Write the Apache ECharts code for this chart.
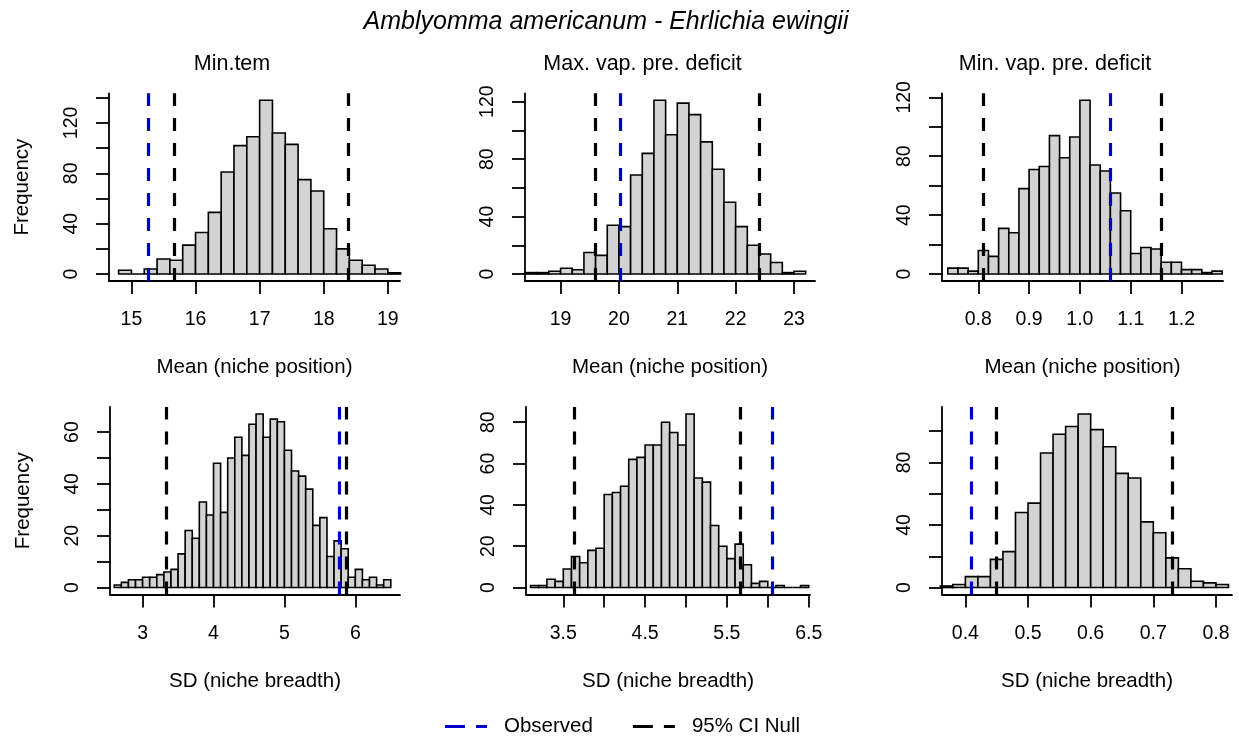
<!DOCTYPE html>
<html>
<head>
<meta charset="utf-8">
<title>Amblyomma americanum - Ehrlichia ewingii</title>
<script src="https://cdn.jsdelivr.net/npm/echarts@6/dist/echarts.min.js"></script>
<style>
  html, body { margin: 0; padding: 0; background: #fff; }
  #chart { width: 1239px; height: 745px; }
</style>
</head>
<body>
<div id="chart"></div>
<script>
// ---- 数据：每个直方图的起始断点、组距、频数 ----
const minTemMeanStart = 14.8, minTemMeanStep = 0.2;
const minTemMeanCounts = [3, 0, 4, 12, 11, 23, 33, 49, 81, 102, 109, 138, 112, 103, 75, 66, 36, 20, 11, 7, 4, 1];

const maxVpdMeanStart = 18.4, maxVpdMeanStep = 0.2;
const maxVpdMeanCounts = [1, 1, 2, 4, 3, 15, 13, 34, 33, 69, 84, 121, 97, 119, 111, 92, 73, 50, 33, 20, 14, 8, 1, 2];

const minVpdMeanStart = 0.74, minVpdMeanStep = 0.02;
const minVpdMeanCounts = [4, 4, 2, 16, 12, 31, 28, 58, 71, 73, 94, 79, 93, 118, 74, 70, 55, 43, 14, 18, 17, 8, 8, 3, 3, 1, 2];

const minTemSdStart = 2.6, minTemSdStep = 0.1;
const minTemSdCounts = [1, 2, 3, 3, 4, 4, 5, 6, 7, 13, 22, 19, 33, 28, 48, 29, 50, 58, 51, 63, 67, 58, 65, 64, 53, 45, 43, 38, 24, 27, 12, 18, 15, 4, 7, 3, 4, 1, 3];

const maxVpdSdStart = 3.1, maxVpdSdStep = 0.1;
const maxVpdSdCounts = [1, 1, 4, 3, 9, 15, 12, 18, 19, 45, 46, 49, 62, 63, 69, 69, 80, 75, 69, 84, 53, 51, 30, 20, 14, 21, 11, 2, 3, 0, 1, 0, 0, 1];

const minVpdSdStart = 0.36, minVpdSdStep = 0.02;
const minVpdSdCounts = [1, 2, 7, 7, 18, 23, 48, 54, 86, 98, 103, 111, 101, 90, 73, 70, 42, 35, 19, 12, 4, 3, 2];

// 观测值与零模型 95% 置信区间
const observedValues = [15.27, 20.02, 1.06, 5.77, 6.06, 0.408];
const ciLower = [15.67, 19.6, 0.815, 3.33, 3.63, 0.446];
const ciUpper = [18.38, 22.4, 1.158, 5.87, 5.66, 0.732];

// 刻度
const xTickValues = [
  [15, 16, 17, 18, 19], [19, 20, 21, 22, 23], [0.8, 0.9, 1.0, 1.1, 1.2],
  [3, 4, 5, 6], [3.5, 4, 4.5, 5, 5.5, 6, 6.5], [0.4, 0.5, 0.6, 0.7, 0.8]
];
const xLabelValues = [
  [15, 16, 17, 18, 19], [19, 20, 21, 22, 23], [0.8, 0.9, 1.0, 1.1, 1.2],
  [3, 4, 5, 6], [3.5, 4.5, 5.5, 6.5], [0.4, 0.5, 0.6, 0.7, 0.8]
];
const xLabelDecimals = [0, 0, 1, 0, 1, 1];
const yTickValues = [
  [0, 20, 40, 60, 80, 100, 120, 140], [0, 20, 40, 60, 80, 100, 120], [0, 20, 40, 60, 80, 100, 120],
  [0, 10, 20, 30, 40, 50, 60], [0, 20, 40, 60, 80], [0, 20, 40, 60, 80, 100]
];
const yLabelValues = [
  [0, 40, 80, 120], [0, 40, 80, 120], [0, 40, 80, 120],
  [0, 20, 40, 60], [0, 20, 40, 60, 80], [0, 40, 80]
];

const mainTitle = 'Amblyomma americanum - Ehrlichia ewingii';
const panelTitles = ['Min.tem', 'Max. vap. pre. deficit', 'Min. vap. pre. deficit'];
const rowXNames = ['Mean (niche position)', 'SD (niche breadth)'];
const yName = 'Frequency';
const legendNames = ['Observed', '95% CI Null'];

// ---- 版面 ----
const FONT = '"Liberation Sans", Arial, sans-serif';
const BLUE = '#0000cd';
const panels = [
  { start: minTemMeanStart, step: minTemMeanStep, counts: minTemMeanCounts },
  { start: maxVpdMeanStart, step: maxVpdMeanStep, counts: maxVpdMeanCounts },
  { start: minVpdMeanStart, step: minVpdMeanStep, counts: minVpdMeanCounts },
  { start: minTemSdStart, step: minTemSdStep, counts: minTemSdCounts },
  { start: maxVpdSdStart, step: maxVpdSdStep, counts: maxVpdSdCounts },
  { start: minVpdSdStart, step: minVpdSdStep, counts: minVpdSdCounts }
];
const gridBoxes = [
  { left: 109, top: 93.3, width: 291, height: 187.7 },
  { left: 525, top: 93.3, width: 290, height: 187.7 },
  { left: 942, top: 93.3, width: 281, height: 187.7 },
  { left: 110, top: 407, width: 290, height: 187.5 },
  { left: 526, top: 407, width: 284, height: 187.5 },
  { left: 942, top: 407, width: 290, height: 187.5 }
];
const xLimits = [[14.65, 19.19], [18.39, 23.36], [0.7285, 1.2817], [2.54, 6.63], [3.044, 6.516], [0.3627, 0.8256]];
const titleCenters = [227, 637.5, 1050];

const chart = echarts.init(document.getElementById('chart'));

const axisLineStyle = { color: '#000', width: 1.8 };
const dashIcon = 'path://M0,0H20V3H0Z M31,0H42V3H31Z';

function histSeries(i) {
  const p = panels[i];
  const data = p.counts.map((c, k) => [p.start + k * p.step, p.start + (k + 1) * p.step, c]);
  return {
    type: 'custom',
    xAxisIndex: i, yAxisIndex: i,
    data: data,
    encode: { x: [0, 1], y: 2 },
    silent: true,
    renderItem(params, api) {
      const p0 = api.coord([api.value(0), api.value(2)]);
      const p1 = api.coord([api.value(1), 0]);
      return {
        type: 'rect',
        shape: { x: p0[0], y: p0[1], width: p1[0] - p0[0], height: p1[1] - p0[1] },
        style: { fill: '#d3d3d3', stroke: '#000', lineWidth: 1.6 }
      };
    }
  };
}

function vlineSeries(i, name, color, values) {
  return {
    type: 'line',
    name: name,
    xAxisIndex: i, yAxisIndex: i,
    data: [],
    color: color,
    symbol: 'none',
    itemStyle: { color: color },
    lineStyle: { color: color, width: 3, type: [13, 12] },
    markLine: {
      silent: true,
      animation: false,
      symbol: ['none', 'none'],
      label: { show: false },
      lineStyle: { color: color, width: 3.2, type: [13, 12] },
      data: values.map(v => ({ xAxis: v }))
    }
  };
}

const grids = [], xAxes = [], yAxes = [], series = [];
panels.forEach((p, i) => {
  grids.push(Object.assign({ containLabel: false }, gridBoxes[i]));
  const maxCount = Math.max(...p.counts);
  const dec = xLabelDecimals[i];
  xAxes.push({
    type: 'value', gridIndex: i,
    min: xLimits[i][0], max: xLimits[i][1],
    name: rowXNames[i < 3 ? 0 : 1],
    nameLocation: 'middle', nameGap: 76,
    nameTextStyle: { fontFamily: FONT, fontSize: 20.5, color: '#000' },
    axisLine: { onZero: false, lineStyle: axisLineStyle },
    axisTick: { customValues: xTickValues[i], length: 13, lineStyle: axisLineStyle },
    axisLabel: {
      customValues: xLabelValues[i], margin: 29,
      fontFamily: FONT, fontSize: 19.5, color: '#000',
      formatter: v => Number(v).toFixed(dec)
    },
    splitLine: { show: false }
  });
  yAxes.push({
    type: 'value', gridIndex: i,
    min: -0.04 * maxCount, max: 1.04 * maxCount,
    name: i % 3 === 0 ? yName : '',
    nameLocation: 'middle', nameGap: 76,
    nameTextStyle: { fontFamily: FONT, fontSize: 20.5, color: '#000' },
    axisLine: { show: true, onZero: false, lineStyle: axisLineStyle },
    axisTick: { show: true, customValues: yTickValues[i], length: 13, lineStyle: axisLineStyle },
    axisLabel: {
      customValues: yLabelValues[i], rotate: 90, margin: 27,
      fontFamily: FONT, fontSize: 19.5, color: '#000'
    },
    splitLine: { show: false }
  });
  series.push(histSeries(i));
  series.push(vlineSeries(i, legendNames[1], '#000', [ciLower[i], ciUpper[i]]));
  series.push(vlineSeries(i, legendNames[0], BLUE, [observedValues[i]]));
});

const titles = [{
  text: mainTitle, left: 601, top: 5, textAlign: 'center',
  textStyle: { fontFamily: FONT, fontSize: 25, fontStyle: 'italic', fontWeight: 'normal', color: '#000' }
}];
panelTitles.forEach((t, j) => {
  titles.push({
    text: t, left: titleCenters[j], top: 48, textAlign: 'center',
    textStyle: { fontFamily: FONT, fontSize: 21.5, fontWeight: 'normal', color: '#000' }
  });
});

chart.setOption({
  animation: false,
  backgroundColor: '#fff',
  title: titles,
  legend: {
    left: 440, top: 711,
    itemWidth: 42, itemHeight: 3, itemGap: 40,
    textStyle: { fontFamily: FONT, fontSize: 20.5, color: '#000', padding: [0, 0, 0, 12] },
    data: legendNames.map(n => ({ name: n, icon: dashIcon }))
  },
  grid: grids,
  xAxis: xAxes,
  yAxis: yAxes,
  series: series
});
</script>
</body>
</html>
